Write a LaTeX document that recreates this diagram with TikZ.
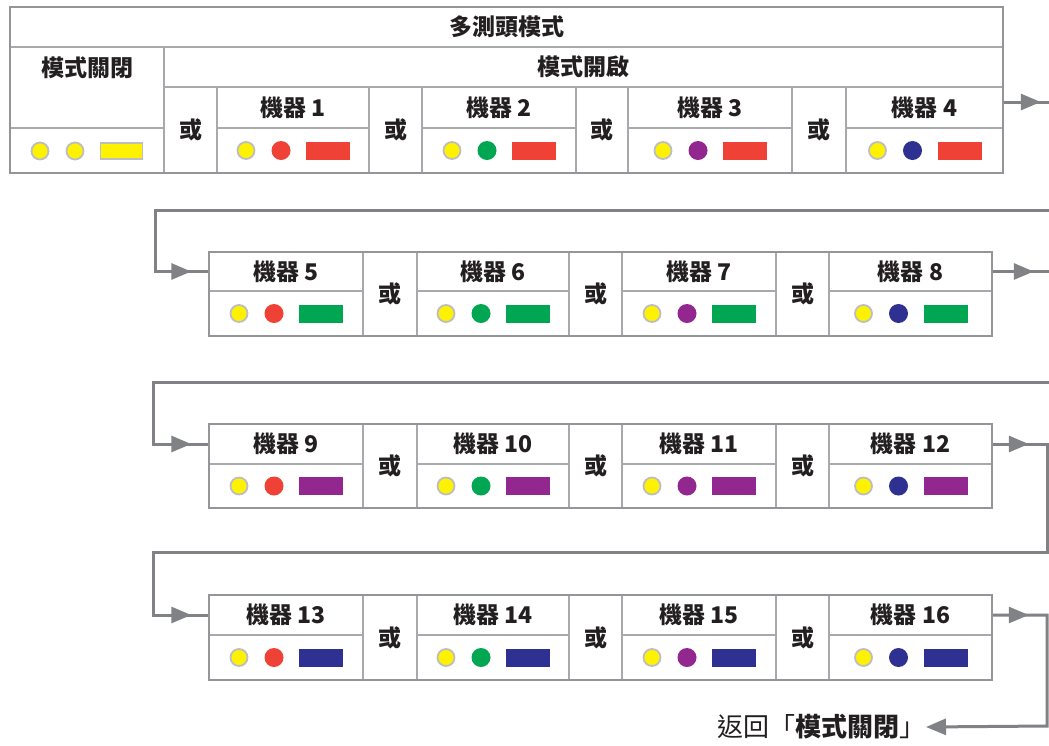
\documentclass[tikz,border=0pt]{standalone}
\usepackage{fontspec}
\newfontfamily\cjk{Noto Sans CJK TC}
\usetikzlibrary{arrows.meta,decorations.markings}
\definecolor{frameg}{HTML}{939598}
\definecolor{cellg}{HTML}{A7A9AC}
\definecolor{conng}{HTML}{808285}
\definecolor{ringg}{HTML}{BCBEC0}
\definecolor{txt}{HTML}{231F20}
\definecolor{lyel}{HTML}{FFF200}
\definecolor{lred}{HTML}{EF4136}
\definecolor{lgreen}{HTML}{00A651}
\definecolor{lpurple}{HTML}{92278F}
\definecolor{lblue}{HTML}{2E3192}
\tikzset{
  tri/.tip={Triangle[length=20pt,width=16pt]},
  gridcell/.style={draw=cellg, line width=1.5pt, rectangle, inner sep=0pt},
  framebox/.style={draw=frameg, line width=2.6pt},
  lampring/.style={circle, fill=lyel, draw=ringg, line width=1.8pt, minimum size=17pt, inner sep=0pt},
  lampdot/.style={circle, minimum size=19pt, inner sep=0pt},
  lampbar/.style={rectangle, minimum width=44pt, minimum height=18pt, inner sep=0pt},
  conn/.style={draw=conng, color=conng, line width=3pt},
  arrowat/.style={postaction={decorate,decoration={markings,mark=at position #1 with {\arrow{tri}}}}},
}
\newcommand\cellbox[6]{\node[gridcell, minimum width={(#4)-(#2)}, minimum height={(#5)-(#3)}] (#1) at ({((#2)+(#4))/2},{((#3)+(#5))/2}) {#6};}
\newcommand\lamps[5]{%
  \node[lampring] (#1a) at ({#2-47},{#3}) {};
  \node[lampdot, fill=#4] (#1b) at ({#2-12},{#3}) {};
  \node[lampbar, fill=#5] (#1c) at ({#2+35},{#3}) {};}
\newcommand\machine[9]{%
  \cellbox{m#1}{#2}{#4}{#3}{#5}{\bfseries 機器 #7}
  \cellbox{b#1}{#2}{#5}{#3}{#6}{}
  \lamps{l#1}{((#2)+(#3))/2}{((#5)+(#6))/2}{#8}{#9}}
\newcommand\orcell[5]{\cellbox{#1}{#2}{#4}{#3}{#5}{\bfseries 或}}
\begin{document}
\begin{tikzpicture}[x=1pt, y=-1pt,
  every node/.append style={font=\cjk\fontsize{23}{26}\selectfont, text=txt}]
\useasboundingbox (0,0) rectangle (1049,745);
\fill[white] (0,0) rectangle (1049,745);
% ---- row 1 table
\cellbox{title}{10}{7}{1003}{47}{\bfseries 多測頭模式}
\cellbox{offc}{10}{47}{164}{128}{}
\node (offt) at (87,68) {\bfseries 模式關閉};
\cellbox{offb}{10}{128}{164}{173}{}
\node[lampring] (offa) at (40,151) {};
\node[lampring] (offb2) at (75,151) {};
\node[rectangle, fill=lyel, draw=ringg, line width=1.8pt, minimum width=42pt, minimum height=16pt, inner sep=0pt] (offc2) at (121.5,151) {};
\cellbox{on}{164}{47}{1003}{87}{\bfseries 模式開啟}
\orcell{o1}{164}{217}{87}{173}
\machine{1}{217}{369}{87}{128}{173}{1}{lred}{lred}
\orcell{o2}{369}{422}{87}{173}
\machine{2}{422}{576}{87}{128}{173}{2}{lgreen}{lred}
\orcell{o3}{576}{628}{87}{173}
\machine{3}{628}{792}{87}{128}{173}{3}{lpurple}{lred}
\orcell{o4}{792}{846}{87}{173}
\machine{4}{846}{1003}{87}{128}{173}{4}{lblue}{lred}
\draw[framebox] (10,7) rectangle (1003,173);
% ---- row 2
\machine{5}{209}{363}{252}{291}{336}{5}{lred}{lgreen}
\orcell{o5}{363}{417}{252}{336}
\machine{6}{417}{569}{252}{291}{336}{6}{lgreen}{lgreen}
\orcell{o6}{569}{622}{252}{336}
\machine{7}{622}{776}{252}{291}{336}{7}{lpurple}{lgreen}
\orcell{o7}{776}{829}{252}{336}
\machine{8}{829}{992}{252}{291}{336}{8}{lblue}{lgreen}
\draw[framebox] (209,252) rectangle (992,336);
% ---- row 3
\machine{9}{209}{363}{424}{464}{508}{9}{lred}{lpurple}
\orcell{o9}{363}{417}{424}{508}
\machine{10}{417}{569}{424}{464}{508}{10}{lgreen}{lpurple}
\orcell{o10}{569}{622}{424}{508}
\machine{11}{622}{776}{424}{464}{508}{11}{lpurple}{lpurple}
\orcell{o11}{776}{829}{424}{508}
\machine{12}{829}{992}{424}{464}{508}{12}{lblue}{lpurple}
\draw[framebox] (209,424) rectangle (992,508);
% ---- row 4
\machine{13}{209}{363}{595}{635}{680}{13}{lred}{lblue}
\orcell{o13}{363}{417}{595}{680}
\machine{14}{417}{569}{595}{635}{680}{14}{lgreen}{lblue}
\orcell{o14}{569}{622}{595}{680}
\machine{15}{622}{776}{595}{635}{680}{15}{lpurple}{lblue}
\orcell{o15}{776}{829}{595}{680}
\machine{16}{829}{992}{595}{635}{680}{16}{lblue}{lblue}
\draw[framebox] (209,595) rectangle (992,680);
% ---- return label
\node[anchor=east, inner sep=0pt, font=\cjk\fontsize{26}{28}\selectfont] (ret) at (926,727) {返回「{\bfseries 模式關閉}」};
% ---- connectors
\coordinate (e1) at (1055,102);
\coordinate (s2) at (1055,210);
\coordinate (e3) at (1055,271.5);
\coordinate (s4) at (1055,382);
\draw[conn, arrowat=37pt] ([yshift=5.5pt]m4.east) -- (e1);
\draw[conn, arrowat=-17pt] (s2) -- (155,210) |- (m5.west);
\draw[conn, arrowat=41pt] (m8.east) -- (e3);
\draw[conn, arrowat=-17pt] (s4) -- (153,382) |- (m9.west);
\draw[conn, arrowat=36pt] (m12.east) -| (1047,552) -- (153,552) |- (m13.west);
\draw[conn, arrowat=-17pt] (153,552) |- (m13.west);
\draw[conn, arrowat=36pt, -tri] (m16.east) -| (1047,726) -- (ret.east);
\end{tikzpicture}
\end{document}
